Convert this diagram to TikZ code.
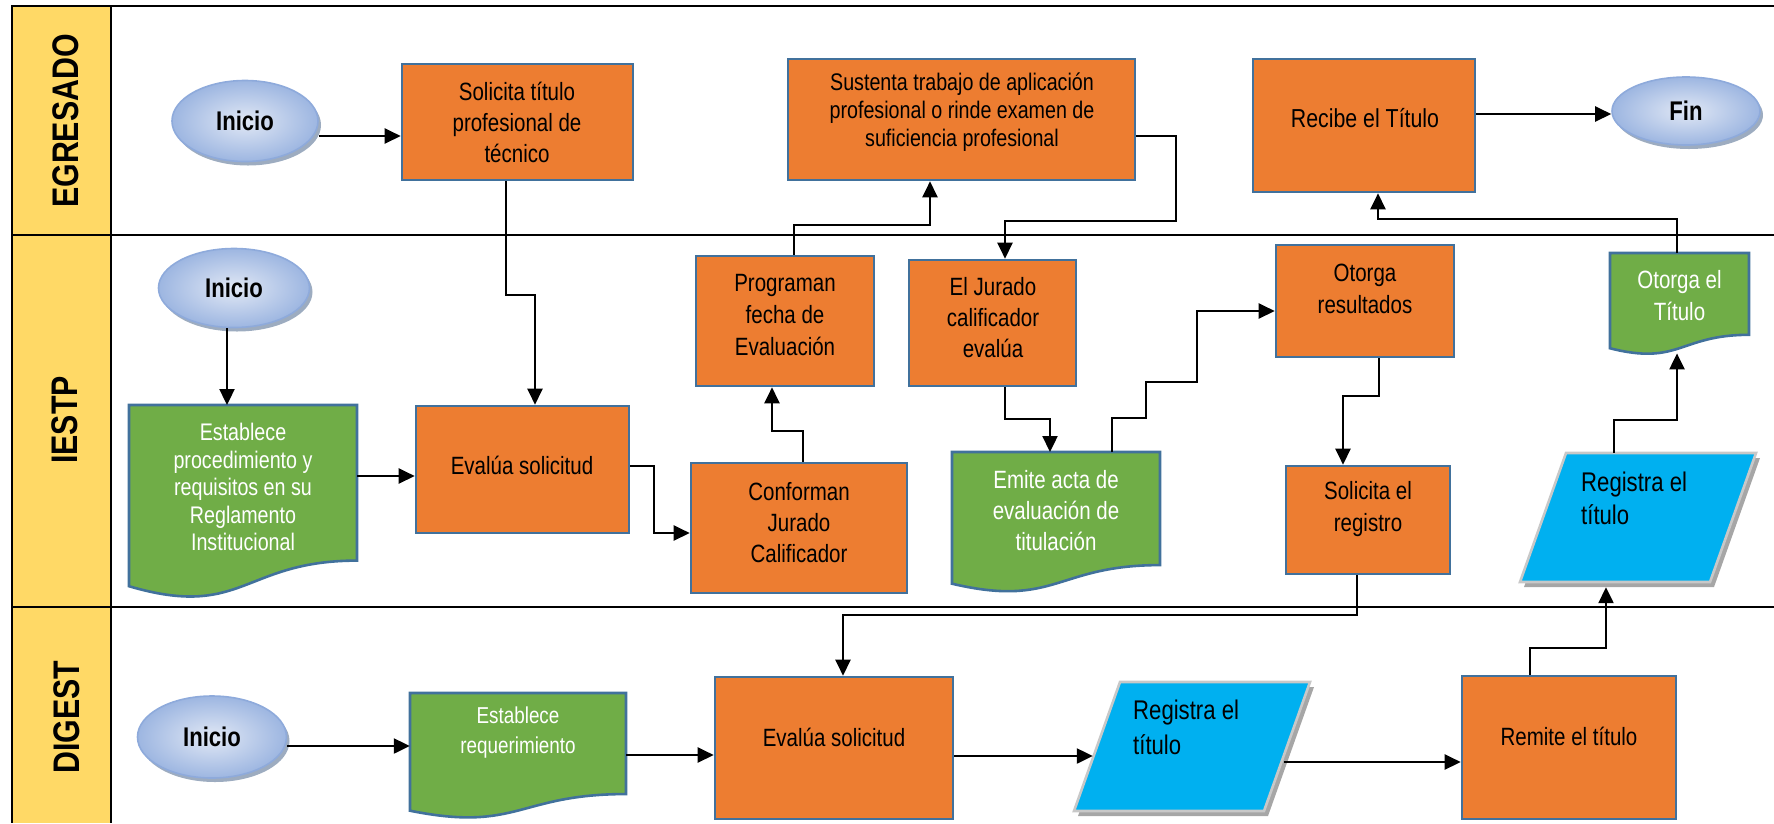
\documentclass[tikz,border=0pt]{standalone}
\usepackage{fontspec}
\setmainfont[FakeStretch=0.82]{Liberation Sans}
\usetikzlibrary{arrows.meta,shapes.geometric,shadows,calc}
\definecolor{orng}{HTML}{ED7D31}
\definecolor{bbord}{HTML}{41719C}
\definecolor{grn}{HTML}{70AD47}
\definecolor{cyn}{HTML}{00B0F0}
\definecolor{ylw}{HTML}{FFD966}
\definecolor{ellb}{HTML}{8EAADB}
\definecolor{ellin}{HTML}{E1E8F5}
\definecolor{ellout}{HTML}{9DB6E1}
\definecolor{ellsh}{HTML}{8497B0}
\definecolor{parab}{HTML}{C8C8C8}
\definecolor{parash}{HTML}{A6A6A6}
\newcommand\docshape[4]{%
  \path[docsh] (#1,#2) -- (#3,#2) -- (#3,{#2+0.802*#4})
    .. controls ({(#1+#3)/2},{#2+0.802*#4}) and ({(#1+#3)/2},{#2+1.107*#4}) ..
    (#1,{#2+0.934*#4}) -- cycle;}
% x-left-bottom, y-top, width, height, slant
\newcommand\parashape[5]{%
  \fill[parash] ({#1+#5+4},{#2+5}) -- ({#1+#3+4},{#2+5}) -- ({#1+#3-#5+4},{#2+#4+5}) -- ({#1+4},{#2+#4+5}) -- cycle;
  \path[parapath] ({#1+#5},#2) -- ({#1+#3},#2) -- ({#1+#3-#5},{#2+#4}) -- (#1,{#2+#4}) -- cycle;}
\begin{document}
\begin{tikzpicture}[x=1pt,y=-1pt,
  obox/.style={rectangle, draw=bbord, line width=2.6pt, fill=orng, inner sep=0},
  docsh/.style={draw=bbord, line width=2.6pt, fill=grn},
  docn/.style={rectangle, inner sep=0, anchor=north},
  parapath/.style={draw=parab, line width=2.6pt, fill=cyn},
  pnode/.style={rectangle, inner sep=0},
  term/.style={ellipse, draw=ellb, line width=1.6pt, inner color=ellin, outer color=ellout,
    inner sep=0, drop shadow={shadow xshift=3pt, shadow yshift=-4pt, fill=ellsh, opacity=0.8},
    font=\fontsize{27}{30}\selectfont\bfseries},
  txt/.style={align=center, inner sep=0, font=\fontsize{25}{31}\selectfont},
  wtxt/.style={txt, text=white},
  lane/.style={line width=2.7pt},
  arr/.style={line width=2.3pt, -{Triangle[length=16pt,width=15pt]}},
  lanelbl/.style={rotate=90, font=\fontsize{37}{40}\selectfont\bfseries, inner sep=0}]
\useasboundingbox (0,0) rectangle (1774,823);
% lanes
\fill[ylw] (12,6) rectangle (111,823);
\draw[lane] (1774,6) -- (12,6) -- (12,823);
\draw[lane] (111,6) -- (111,823);
\draw[lane] (12,235) -- (1774,235);
\draw[lane] (12,607) -- (1774,607);
\node[lanelbl] (lbE) at (66,121) {EGRESADO};
\node[lanelbl] (lbI) at (65,420) {IESTP};
\node[lanelbl] (lbD) at (67,717) {DIGEST};
% terminals
\node[term, minimum width=146, minimum height=81] (ie) at (245,121) {Inicio};
\node[term, minimum width=151, minimum height=79] (ii) at (234,288) {Inicio};
\node[term, minimum width=149, minimum height=82] (id) at (212,737) {Inicio};
\node[term, minimum width=148, minimum height=68] (fin) at (1686,111) {Fin};
% process boxes
\node[obox, minimum width=231, minimum height=116] (sol) at (517.5,122) {};
\node[obox, minimum width=347, minimum height=121] (sus) at (961.5,119.5) {};
\node[obox, minimum width=222, minimum height=133] (rec) at (1364,125.5) {};
\node[obox, minimum width=213, minimum height=127] (evI) at (522.5,469.5) {};
\node[obox, minimum width=216, minimum height=130] (conf) at (799,528) {};
\node[obox, minimum width=178, minimum height=130] (prog) at (785,321) {};
\node[obox, minimum width=167, minimum height=126] (jur) at (992.5,323) {};
\node[obox, minimum width=178, minimum height=112] (otr) at (1365,301) {};
\node[obox, minimum width=164, minimum height=108] (solr) at (1368,520) {};
\node[obox, minimum width=238, minimum height=142] (evD) at (834,748) {};
\node[obox, minimum width=214, minimum height=143] (rem) at (1569,747.5) {};
% documents
\docshape{129}{405}{357}{194}
\node[docn, minimum width=228, minimum height=188] (est) at (243,405) {};
\docshape{952}{452}{1160}{141}
\node[docn, minimum width=208, minimum height=137] (emi) at (1056,452) {};
\docshape{1610}{253}{1749}{102}
\node[docn, minimum width=139, minimum height=100] (ott) at (1679.5,253) {};
\docshape{410}{693}{626}{126}
\node[docn, minimum width=216, minimum height=122] (esr) at (518,693) {};
% data (parallelograms)
\parashape{1520}{453}{236}{129}{46}
\node[pnode, minimum width=236, minimum height=129] (regI) at (1638,517.5) {};
\parashape{1074}{682}{236}{129}{46}
\node[pnode, minimum width=236, minimum height=129] (regD) at (1192,746.5) {};
% texts
\node[txt] (sol-t) at (517,122) {Solicita título\\profesional de\\técnico};
\node[txt, font=\fontsize{24}{28}\selectfont] (sus-t) at (962,112) {Sustenta trabajo de aplicación\\profesional o rinde examen de\\suficiencia profesional};
\node[txt, font=\fontsize{26}{31}\selectfont] (rec-t) at (1365,118) {Recibe el Título};
\node[txt] (evI-t) at (522,465) {Evalúa solicitud};
\node[txt] (conf-t) at (799,523) {Conforman\\Jurado\\Calificador};
\node[txt, font=\fontsize{25}{32}\selectfont] (prog-t) at (785,315) {Programan\\fecha de\\Evaluación};
\node[txt] (jur-t) at (993,318) {El Jurado\\calificador\\evalúa};
\node[txt, font=\fontsize{25}{32}\selectfont] (otr-t) at (1365,289) {Otorga\\resultados};
\node[txt, font=\fontsize{25}{32}\selectfont] (solr-t) at (1368,509) {Solicita el\\registro};
\node[txt] (evD-t) at (834,737) {Evalúa solicitud};
\node[txt] (rem-t) at (1569,736) {Remite el título};
\node[wtxt, font=\fontsize{24}{27.5}\selectfont] (est-t) at (243,487) {Establece\\procedimiento y\\requisitos en su\\Reglamento\\Institucional};
\node[wtxt] (emi-t) at (1056,511) {Emite acta de\\evaluación de\\titulación};
\node[wtxt, font=\fontsize{25}{32}\selectfont] (ott-t) at (1679.5,296) {Otorga el\\Título};
\node[wtxt, font=\fontsize{23}{30}\selectfont] (esr-t) at (518,733) {Establece\\requerimiento};
\node[txt, anchor=west, align=left, font=\fontsize{27}{33}\selectfont] (regI-t) at (1581,498) {Registra el\\título};
\node[txt, anchor=west, align=left, font=\fontsize{27}{35}\selectfont] (regD-t) at (1133,727) {Registra el\\título};
% connectors
\draw[arr] (ie.east |- 0,136) -- (sol.west |- 0,136);
\draw[arr] (sol.south -| 506,0) |- (535,295) -- (evI.north -| 535,0);
\draw[arr] (ii.south -| 227,0) -- (est.north -| 227,0);
\draw[arr] (est.east |- 0,476) -- (evI.west |- 0,476);
\draw[arr] (evI.east |- 0,466) -| (654,533) -- (conf.west |- 0,533);
\draw[arr] (conf.north -| 803,0) |- (772,431) -- (prog.south -| 772,0);
\draw[arr] (prog.north -| 794,0) |- (930,225) -- (sus.south -| 930,0);
\draw[arr] (sus.east |- 0,136) -| (1176,221) -- (1005,221) -- (jur.north -| 1005,0);
\draw[arr] (jur.south -| 1005,0) |- (1050,419) -- (emi.north -| 1050,0);
\draw[arr] (emi.north -| 1112,0) |- (1146,418) |- (1197,382) |- (otr.west |- 0,311);
\draw[arr] (otr.south -| 1379,0) |- (1343,396) -- (solr.north -| 1343,0);
\draw[arr] (solr.south -| 1357,0) |- (843,615) -- (evD.north -| 843,0);
\draw[arr] (id.east |- 0,746) -- (esr.west |- 0,746);
\draw[arr] (esr.east |- 0,755) -- (evD.west |- 0,755);
\draw[arr] (evD.east |- 0,756) -- ($(regD.west |- 0,756)+(19,0)$);
\draw[arr] ($(regD.east |- 0,762)+(-26,0)$) -- (rem.west |- 0,762);
\draw[arr] (rem.north -| 1530,0) |- (1606,648) -- ($(regI.south -| 1606,0)+(0,5)$);
\draw[arr] (regI.north -| 1614,0) |- (1677,420) -- (ott.south -| 1677,0);
\draw[arr] (ott.north -| 1677,0) |- (1378,219) -- (rec.south -| 1378,0);
\draw[arr] (rec.east |- 0,114) -- (fin.west |- 0,114);
\end{tikzpicture}
\end{document}
